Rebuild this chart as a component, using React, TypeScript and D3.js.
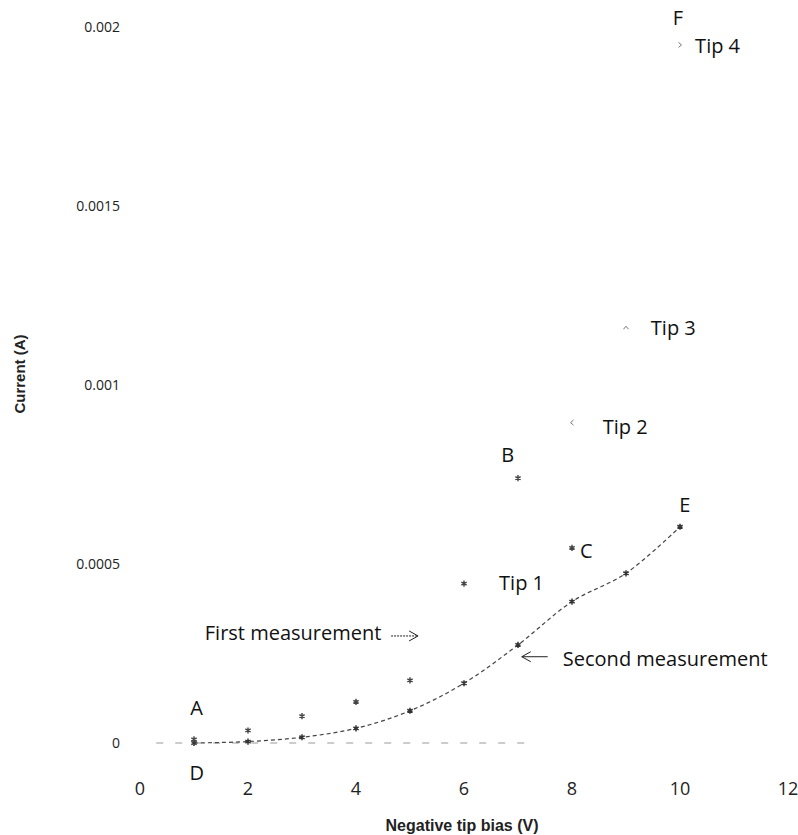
import { useEffect, useRef } from 'react';
import * as d3 from 'd3';

// readings (bias in V, current in A)
const biasFirst = [1, 2, 3, 4, 5, 6, 7, 8];
const currentFirst = [0.00001, 0.000035, 0.000075, 0.000115, 0.000175, 0.000445, 0.00074, 0.000545];

const biasSecond = [1, 2, 3, 4, 5, 6, 7, 8, 9, 10];
const currentSecond = [0.0, 0.000004, 0.000016, 0.000041, 0.00009, 0.000167, 0.000274, 0.000395, 0.000474, 0.000604];

const tipBias = [8, 9, 10];
const tipCurrent = [0.000895, 0.00116, 0.00195];
const tipAngle = [180, -90, 0];

const xTicks = [0, 2, 4, 6, 8, 10, 12];
const yTicks = [0, 0.0005, 0.001, 0.0015, 0.002];
const yTickLabels = ['0', '0.0005', '0.001', '0.0015', '0.002'];

// annotation texts, anchored in data units
const noteText = ['A', 'D', 'B', 'C', 'E', 'F', 'Tip 1', 'Tip 2', 'Tip 3', 'Tip 4', 'First measurement', 'Second measurement'];
const noteX = [1.05, 1.05, 6.81, 8.15, 10.09, 9.96, 6.65, 8.57, 9.46, 10.28, 1.2, 7.83];
const noteY = [0.0000978, -0.000084, 0.000804, 0.000536, 0.000665, 0.002025, 0.000447, 0.000883, 0.00116, 0.001947, 0.000307, 0.000235];

// pointer arrows: [fromX, toX, y] in data units
const arrowFrom = [4.65, 7.55];
const arrowTo = [5.15, 7.07];
const arrowY = [0.000299, 0.000241];

const App = () => {
  const svgRef = useRef<SVGSVGElement>(null);

  useEffect(() => {
    const svg = d3.select(svgRef.current);
    svg.selectAll('*').remove();

    const x = d3.scaleLinear().domain([0, 12]).range([140, 788]);
    const y = d3.scaleLinear().domain([0, 0.002]).range([743, 27]);
    const font = '"Open Sans", sans-serif';
    const narrow = '"Liberation Sans Narrow", "Liberation Sans", sans-serif';

    svg.append('rect').attr('width', 798).attr('height', 835).attr('fill', '#fff');

    // broken zero line
    svg.append('line')
      .attr('x1', x(0.3)).attr('x2', x(7.3))
      .attr('y1', y(0)).attr('y2', y(0))
      .attr('stroke', '#999')
      .attr('stroke-width', 1.2)
      .attr('stroke-dasharray', '7,12');

    // tick labels
    svg.append('g').selectAll('text')
      .data(xTicks)
      .join('text')
      .attr('x', d => x(d))
      .attr('y', y(0) + 52)
      .attr('text-anchor', 'middle')
      .attr('font-family', font)
      .attr('font-size', 18)
      .attr('fill', '#222')
      .text(d => d);

    svg.append('g').selectAll('text')
      .data(yTicks)
      .join('text')
      .attr('x', 120)
      .attr('y', d => y(d) + 5)
      .attr('text-anchor', 'end')
      .attr('font-family', font)
      .attr('font-size', 14)
      .attr('fill', '#222')
      .text((d, i) => yTickLabels[i]);

    // axis titles
    svg.append('text')
      .attr('x', 462)
      .attr('y', 831)
      .attr('text-anchor', 'middle')
      .attr('font-family', narrow)
      .attr('font-stretch', 'condensed')
      .attr('font-weight', 'bold')
      .attr('font-size', 16)
      .attr('fill', '#222')
      .text('Negative tip bias (V)');

    svg.append('text')
      .attr('transform', 'translate(25,374) rotate(-90)')
      .attr('text-anchor', 'middle')
      .attr('font-family', narrow)
      .attr('font-stretch', 'condensed')
      .attr('font-weight', 'bold')
      .attr('font-size', 15)
      .attr('fill', '#222')
      .text('Current (A)');

    // second measurement: smoothed dashed line
    const second = biasSecond.map((b, i) => [b, currentSecond[i]] as [number, number]);
    const line = d3.line<[number, number]>()
      .x(d => x(d[0]))
      .y(d => y(d[1]))
      .curve(d3.curveCatmullRom.alpha(0.5));

    svg.append('path')
      .datum(second)
      .attr('d', line)
      .attr('fill', 'none')
      .attr('stroke', '#444')
      .attr('stroke-width', 1.2)
      .attr('stroke-dasharray', '4,3');

    const star = d3.symbol().type(d3.symbolAsterisk).size(26);

    svg.append('g').selectAll('path')
      .data(second)
      .join('path')
      .attr('transform', d => `translate(${x(d[0])},${y(d[1])})`)
      .attr('d', star)
      .attr('fill', 'none')
      .attr('stroke', '#333')
      .attr('stroke-width', 1.5);

    // first measurement: scattered stars
    svg.append('g').selectAll('path')
      .data(biasFirst.map((b, i) => [b, currentFirst[i]]))
      .join('path')
      .attr('transform', d => `translate(${x(d[0])},${y(d[1])})`)
      .attr('d', star)
      .attr('fill', 'none')
      .attr('stroke', '#444')
      .attr('stroke-width', 1.4);

    // single tip readings, tiny chevrons
    svg.append('g').selectAll('path')
      .data(tipBias.map((b, i) => [b, tipCurrent[i], tipAngle[i]]))
      .join('path')
      .attr('transform', d => `translate(${x(d[0])},${y(d[1])}) rotate(${d[2]})`)
      .attr('d', 'M-1.5,-2.5L1.5,0L-1.5,2.5')
      .attr('fill', 'none')
      .attr('stroke', '#777')
      .attr('stroke-width', 1);

    // annotations
    svg.append('g').selectAll('text')
      .data(noteText)
      .join('text')
      .attr('x', (d, i) => x(noteX[i]))
      .attr('y', (d, i) => y(noteY[i]))
      .attr('dy', '0.35em')
      .attr('text-anchor', d => d.length === 1 && d !== 'C' ? 'middle' : 'start')
      .attr('font-family', font)
      .attr('font-size', 20)
      .attr('fill', '#111')
      .text(d => d);

    // pointer arrows
    arrowFrom.forEach((from, i) => {
      const x1 = x(from);
      const x2 = x(arrowTo[i]);
      const yy = y(arrowY[i]);
      const dir = x2 > x1 ? -1 : 1;
      svg.append('line')
        .attr('x1', x1).attr('y1', yy)
        .attr('x2', x2).attr('y2', yy)
        .attr('stroke', '#222')
        .attr('stroke-width', 1)
        .attr('stroke-dasharray', i === 0 ? '2,1' : null);
      svg.append('path')
        .attr('d', `M${x2 + dir * 9},${yy - 5}L${x2},${yy}L${x2 + dir * 9},${yy + 5}`)
        .attr('fill', 'none')
        .attr('stroke', '#222')
        .attr('stroke-width', 1);
    });
  }, []);

  return (
    <svg
      ref={svgRef}
      width={798}
      height={835}
      style={{ position: 'absolute', left: 0, top: 0 }}
    />
  );
};

export default App;
